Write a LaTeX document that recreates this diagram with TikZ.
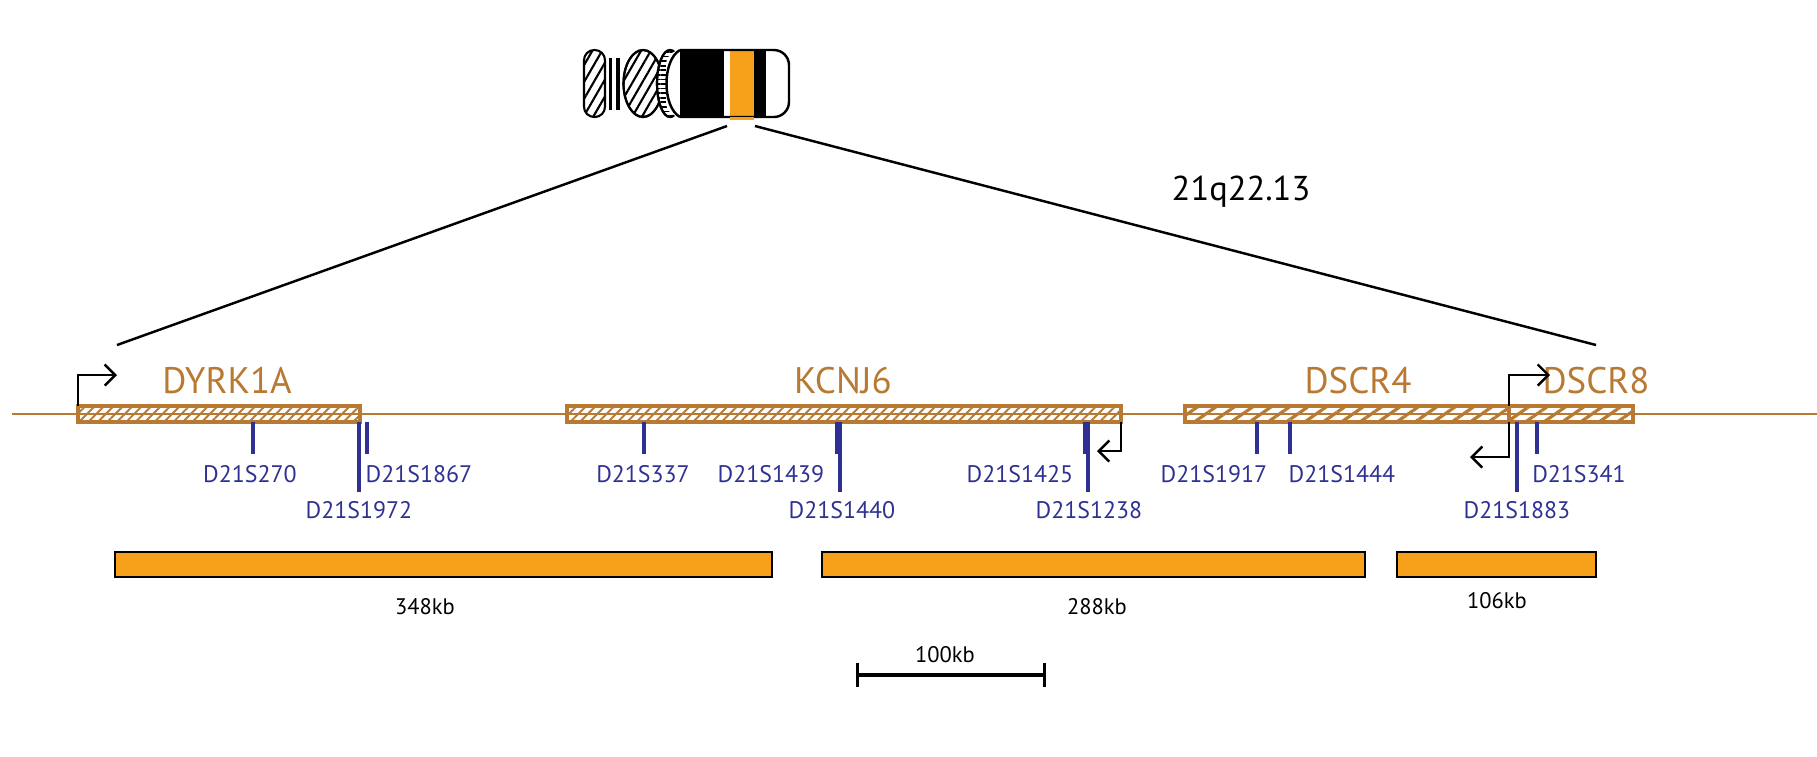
\documentclass[tikz,border=0pt]{standalone}
\usepackage{fontspec}
\setmainfont{PT Sans}
\usetikzlibrary{patterns.meta, arrows.meta}
\definecolor{genebrown}{RGB}{184,121,50}
\definecolor{markblue}{RGB}{46,49,146}
\definecolor{bandorange}{RGB}{247,161,26}
\tikzset{gene/.style={draw=genebrown, line width=0.9pt, pattern={Lines[angle=45,distance=1.9pt,line width=0.55pt]}, pattern color=genebrown},
  genelab/.style={text=genebrown, font=\fontsize{10.5}{12}\selectfont},
  marker/.style={draw=markblue, line width=1pt},
  mlab/.style={text=markblue, font=\fontsize{6.8}{8}\selectfont},
  promo/.style={draw=black, line width=0.7pt, -{Straight Barb[length=3pt,width=6pt]}},
  region/.style={draw=black, fill=bandorange, line width=0.5pt},
  kblab/.style={font=\fontsize{6.4}{7}\selectfont}}
\begin{document}
\begin{tikzpicture}[x=0.01cm, y=-0.01cm]
  \useasboundingbox (0,0) rectangle (1817,756);
  % chromosome
  \draw[line width=0.6pt, rounded corners=2.9pt, pattern={Lines[angle=60,distance=2.4pt,line width=0.6pt]}] (584,50) rectangle (605,117);
  \fill (609,58) rectangle (612,110);
  \fill (616,58) rectangle (620,110);
  \draw[line width=0.6pt, fill=white] (643,83.5) ellipse (19.5 and 33.5);
  \draw[line width=0.6pt, pattern={Lines[angle=60,distance=2.4pt,line width=0.6pt]}] (643,83.5) ellipse (19.5 and 33.5);
  \draw[line width=0.6pt, fill=white] (670,83.5) ellipse (13 and 33.5);
  \draw[line width=0.6pt, pattern={Lines[angle=0,distance=1.3pt,line width=0.5pt]}] (670,83.5) ellipse (13 and 33.5);
  \begin{scope}
    \clip[rounded corners=4.3pt] (666,50) rectangle (789,117);
    \fill[white] (666,50) rectangle (789,117);
    \fill[black] (680,48) rectangle (724,119);
    \fill[bandorange] (730,48) rectangle (754,119);
    \fill[black] (754,48) rectangle (766,119);
  \end{scope}
  \draw[line width=0.7pt, rounded corners=4.3pt] (680,50) -- (789,50) -- (789,117) -- (680,117);
  \draw[line width=0.7pt] (680,50) .. controls (662,60) and (662,107) .. (680,117);
  \fill[bandorange] (730,117) rectangle (754,120);
  % zoom lines
  \coordinate (zl) at (727,126);
  \coordinate (zr) at (755,126);
  \coordinate (gl) at (117,345);
  \coordinate (gr) at (1596,345);
  \draw[line width=0.7pt] (zl) -- (gl);
  \draw[line width=0.7pt] (zr) -- (gr);
  \node (band) at (1241,192) {\fontsize{9.8}{11}\selectfont 21q22.13};
  % backbone and genes
  \draw[genebrown, line width=0.8pt] (12,414) -- (1817,414);
  \draw[gene] (78,406) rectangle (360,422);
  \draw[gene] (567,406) rectangle (1121,422);
  \draw[gene, line width=1.4pt, pattern={Lines[angle=35,distance=3pt,line width=0.9pt]}] (1185,406) rectangle (1509,422);
  \draw[gene, line width=1.4pt, pattern={Lines[angle=35,distance=3pt,line width=0.9pt]}] (1509,406) rectangle (1633,422);
  \node[genelab] (dyrk) at (227,381) {DYRK1A};
  \node[genelab] (kcnj) at (843,381) {KCNJ6};
  \node[genelab] (dscr4) at (1358,381) {DSCR4};
  \node[genelab] (dscr8) at (1596,381) {DSCR8};
  % promoters
  \draw[promo] (78,406) -- (78,375) -- (117,375);
  \draw[promo] (1121,422) -- (1121,451) -- (1097,451);
  \draw[promo] (1509,406) -- (1509,375) -- (1550,375);
  \draw[promo] (1509,422) -- (1509,457) -- (1470,457);
  % markers
  \foreach \x/\e/\t/\lx/\ly in {253/454/D21S270/250/474, 359/492/D21S1972/359/510,
      367/454/D21S1867/419/474, 644/454/D21S337/643/474, 837/454/D21S1439/771/474,
      840/492/D21S1440/842/510, 1085/454/D21S1425/1020/474, 1088/492/D21S1238/1089/510,
      1257/454/D21S1917/1214/474, 1290/454/D21S1444/1342/474, 1517/492/D21S1883/1517/510,
      1537/454/D21S341/1579/474}
    {\draw[marker] (\x,422) -- (\x,\e);
     \node[mlab] at (\lx,\ly) {\t};}
  % regions
  \draw[region] (115,552) rectangle (772,577);
  \draw[region] (822,552) rectangle (1365,577);
  \draw[region] (1397,552) rectangle (1596,577);
  \node[kblab] (r1) at (425,607) {348kb};
  \node[kblab] (r2) at (1097,607) {288kb};
  \node[kblab] (r3) at (1497,601) {106kb};
  % scale bar
  \coordinate (sa) at (856,675);
  \coordinate (sb) at (1046,675);
  \draw[line width=0.9pt, |-|] (sa) -- (sb);
  \node[kblab] (sc) at (945,655) {100kb};
\end{tikzpicture}
\end{document}
